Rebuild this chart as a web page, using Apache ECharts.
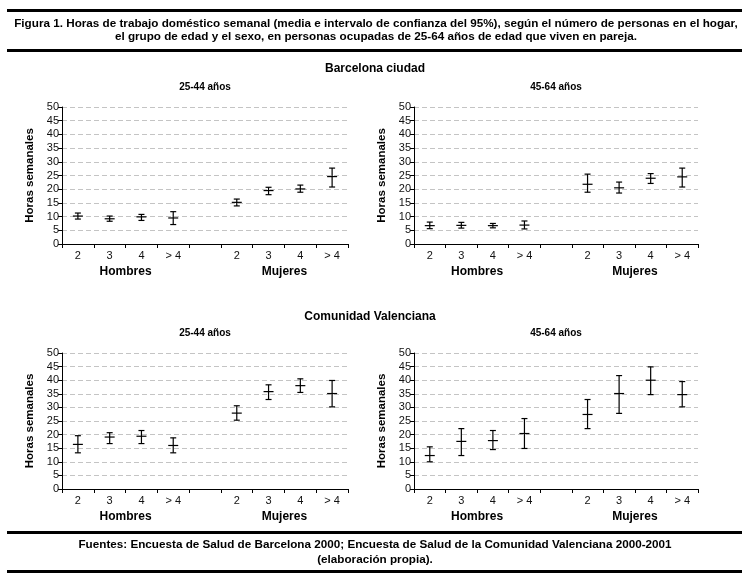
<!DOCTYPE html>
<html>
<head>
<meta charset="utf-8">
<script src="https://cdn.jsdelivr.net/npm/echarts@6/dist/echarts.min.js"></script>
<style>
html,body{margin:0;padding:0;background:#fff;}
#c{width:750px;height:583px;}
</style>
</head>
<body>
<div id="c"></div>
<script>
// ---- Data ----
const categories = ['2', '3', '4', '> 4', '', '2', '3', '4', '> 4'];
const groupLabels = ['', '', 'Hombres', '', '', '', '', 'Mujeres', '', ''];
const yMin = 0, yMax = 50, yStep = 5;

const bcnYoungMean = [10.2, 9.2, 9.9, 9.5, null, 15.2, 19.5, 20.1, 24.6];
const bcnYoungLow  = [9.1, 8.3, 8.6, 7.1, null, 13.9, 18.0, 18.9, 20.8];
const bcnYoungHigh = [11.3, 10.2, 10.8, 11.8, null, 16.4, 20.7, 21.5, 27.7];

const bcnOldMean = [6.7, 6.8, 6.7, 6.9, null, 21.8, 20.5, 24.0, 24.5];
const bcnOldLow  = [5.6, 5.8, 5.9, 5.5, null, 18.9, 18.6, 22.1, 20.8];
const bcnOldHigh = [8.0, 7.9, 7.5, 8.4, null, 25.5, 22.6, 25.7, 27.7];

const cvYoungMean = [16.4, 19.1, 19.4, 16.0, null, 27.9, 35.8, 38.0, 35.1];
const cvYoungLow  = [13.3, 16.7, 16.7, 13.3, null, 25.3, 32.9, 35.5, 30.2];
const cvYoungHigh = [19.6, 20.7, 21.5, 18.8, null, 30.6, 38.3, 40.5, 39.9];

const cvOldMean = [12.3, 17.5, 17.8, 20.4, null, 27.4, 35.1, 40.0, 34.7];
const cvOldLow  = [10.0, 12.3, 14.5, 14.9, null, 22.2, 27.8, 34.7, 30.2];
const cvOldHigh = [15.5, 22.2, 21.5, 25.9, null, 32.9, 41.7, 44.9, 39.5];

const panelTitles = ['25-44 años', '45-64 años', '25-44 años', '45-64 años'];
const sectionTitles = ['Barcelona ciudad', 'Comunidad Valenciana'];
const yAxisName = 'Horas semanales';
const figTitle = 'Figura 1. Horas de trabajo doméstico semanal (media e intervalo de confianza del 95%), según el número de personas en el hogar,\nel grupo de edad y el sexo, en personas ocupadas de 25-64 años de edad que viven en pareja.';
const footer = 'Fuentes: Encuesta de Salud de Barcelona 2000; Encuesta de Salud de la Comunidad Valenciana 2000-2001\n(elaboración propia).';

const panels = [
  {mean: bcnYoungMean, low: bcnYoungLow, high: bcnYoungHigh},
  {mean: bcnOldMean, low: bcnOldLow, high: bcnOldHigh},
  {mean: cvYoungMean, low: cvYoungLow, high: cvYoungHigh},
  {mean: cvOldMean, low: cvOldLow, high: cvOldHigh}
];

// ---- Layout ----
const FONT = '"Liberation Sans", Arial, Helvetica, sans-serif';
const grids = [
  {left: 62, top: 107, width: 286, height: 137},
  {left: 414, top: 107, width: 284, height: 137},
  {left: 62, top: 353, width: 286, height: 136},
  {left: 414, top: 353, width: 284, height: 136}
];

const chart = echarts.init(document.getElementById('c'), null, {renderer: 'canvas'});

const xAxes = [], yAxes = [], series = [], titles = [];
grids.forEach((g, i) => {
  xAxes.push({
    type: 'category', gridIndex: i, data: categories, position: 'bottom',
    boundaryGap: true,
    axisLine: {lineStyle: {color: '#000', width: 1}},
    axisTick: {show: true, length: 4, interval: 0, lineStyle: {color: '#000'}},
    axisLabel: {interval: 0, margin: 6, color: '#111', fontSize: 11, fontFamily: FONT},
    splitLine: {show: false}
  });
  xAxes.push({
    type: 'category', gridIndex: i, data: groupLabels, position: 'bottom',
    boundaryGap: false,
    axisLine: {show: false}, axisTick: {show: false},
    axisLabel: {interval: 0, margin: 22, color: '#000', fontSize: 12, fontWeight: 'bold', fontFamily: FONT},
    splitLine: {show: false}
  });
  yAxes.push({
    type: 'value', gridIndex: i, min: yMin, max: yMax, interval: yStep,
    name: yAxisName, nameLocation: 'middle', nameRotate: 90, nameGap: 26,
    nameTextStyle: {color: '#000', fontSize: 11.5, fontWeight: 'bold', fontFamily: FONT},
    axisLine: {show: true, lineStyle: {color: '#000', width: 1}},
    axisTick: {show: true, length: 4, lineStyle: {color: '#000'}},
    axisLabel: {margin: 3, color: '#111', fontSize: 11, fontFamily: FONT},
    splitLine: {show: true, lineStyle: {color: '#c4c4c4', type: [5, 3], width: 1}}
  });
  const p = panels[i];
  const data = [];
  for (let k = 0; k < categories.length; k++) {
    if (p.mean[k] == null) continue;
    data.push([k, p.mean[k], p.low[k], p.high[k]]);
  }
  series.push({
    type: 'custom', xAxisIndex: i * 2, yAxisIndex: i, data: data,
    encode: {x: 0, y: [1, 2, 3]},
    renderItem: function (params, api) {
      const c = api.value(0);
      const m = api.coord([c, api.value(1)]);
      const lo = api.coord([c, api.value(2)]);
      const hi = api.coord([c, api.value(3)]);
      const st = {stroke: '#000', lineWidth: 1.2};
      const capW = 3, meanW = 5;
      return {
        type: 'group',
        children: [
          {type: 'line', shape: {x1: m[0], y1: hi[1], x2: m[0], y2: lo[1]}, style: st},
          {type: 'line', shape: {x1: m[0] - capW, y1: hi[1], x2: m[0] + capW, y2: hi[1]}, style: st},
          {type: 'line', shape: {x1: m[0] - capW, y1: lo[1], x2: m[0] + capW, y2: lo[1]}, style: st},
          {type: 'line', shape: {x1: m[0] - meanW, y1: m[1], x2: m[0] + meanW, y2: m[1]}, style: st}
        ]
      };
    }
  });
  titles.push({
    text: panelTitles[i], left: g.left + g.width / 2, top: (i < 2 ? 82 : 328),
    textAlign: 'center', padding: 0,
    textStyle: {fontSize: 10, fontWeight: 'bold', color: '#000', fontFamily: FONT}
  });
});

titles.push({
  text: figTitle, left: 376, top: 17, textAlign: 'center', padding: 0,
  textStyle: {fontSize: 11.7, fontWeight: 'bold', color: '#000', lineHeight: 13.5, fontFamily: FONT}
});
titles.push({
  text: sectionTitles[0], left: 375, top: 63, textAlign: 'center', padding: 0,
  textStyle: {fontSize: 12, fontWeight: 'bold', color: '#000', fontFamily: FONT}
});
titles.push({
  text: sectionTitles[1], left: 370, top: 311, textAlign: 'center', padding: 0,
  textStyle: {fontSize: 12, fontWeight: 'bold', color: '#000', fontFamily: FONT}
});
titles.push({
  text: footer, left: 375, top: 537, textAlign: 'center', padding: 0,
  textStyle: {fontSize: 11.7, fontWeight: 'bold', color: '#000', lineHeight: 15, fontFamily: FONT}
});

const rules = [9, 49, 531, 570].map(y => ({
  type: 'rect', shape: {x: 7, y: y, width: 735, height: 3}, style: {fill: '#000'}, silent: true
}));

chart.setOption({
  backgroundColor: '#fff',
  animation: false,
  title: titles,
  grid: grids.map(g => Object.assign({containLabel: false}, g)),
  xAxis: xAxes,
  yAxis: yAxes,
  series: series,
  graphic: rules
});
</script>
</body>
</html>
